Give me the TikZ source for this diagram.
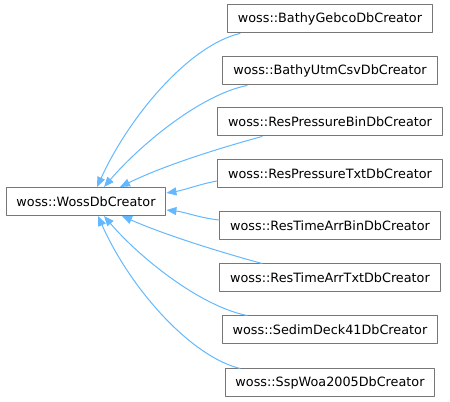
\documentclass[tikz,border=0pt]{standalone}
\usepackage{fontspec}
\setmainfont{DejaVu Sans}
\usetikzlibrary{arrows.meta}
\usetikzlibrary{calc}

\definecolor{edgeblue}{HTML}{63B8FF}
\definecolor{boxgray}{HTML}{777777}

\tikzset{
  classbox/.style={draw=boxgray, fill=white, line width=0.75pt, inner xsep=7.8pt,
    minimum height=21pt, font=\fontsize{9.6}{11}\selectfont},
  inherit/.style={draw=edgeblue, line width=0.75pt, -{Triangle[length=7.5pt,width=6pt]}}
}

\begin{document}
\begin{tikzpicture}[x=0.75pt, y=-0.75pt, line cap=round, line join=round]
\useasboundingbox (0,0) rectangle (450,402);

\node[classbox] (base) at (86,201.5) {woss::WossDbCreator};

\node[classbox] (gebco) at (330,19) {woss::BathyGebcoDbCreator};
\node[classbox] (utm)   at (330,71) {woss::BathyUtmCsvDbCreator};
\node[classbox] (pbin)  at (330,122) {woss::ResPressureBinDbCreator};
\node[classbox] (ptxt)  at (330,174) {woss::ResPressureTxtDbCreator};
\node[classbox] (tbin)  at (330,226) {woss::ResTimeArrBinDbCreator};
\node[classbox] (ttxt)  at (330,278) {woss::ResTimeArrTxtDbCreator};
\node[classbox] (sedim) at (330,330) {woss::SedimDeck41DbCreator};
\node[classbox] (woa)   at (330,383) {woss::SspWoa2005DbCreator};

% above the base class
\draw[inherit] ($(gebco.south)+(-90,0)$) .. controls (190,45) and (130,115) .. ($(base.north)+(11,0)$);
\draw[inherit] ($(utm.south)+(-83,0)$) .. controls (200,95) and (140,145) .. ($(base.north)+(18,0)$);
\draw[inherit] ($(pbin.south)+(-68,0)$) .. controls (220,148) and (165,165) .. ($(base.north)+(34,0)$);

% at the side
\draw[inherit] ($(ptxt.west)+(0,7)$) .. controls (200,184) and (185,190) .. ($(base.east)+(0,-8.5)$);
\draw[inherit] ($(tbin.west)+(0,-6)$) .. controls (200,218) and (185,212) .. ($(base.east)+(0,8.5)$);

% below the base class
\draw[inherit] ($(ttxt.north)+(-68,0)$) .. controls (220,252) and (165,235) .. ($(base.south)+(36,0)$);
\draw[inherit] ($(sedim.north)+(-83,0)$) .. controls (200,306) and (140,258) .. ($(base.south)+(18,0)$);
\draw[inherit] ($(woa.north)+(-90,0)$) .. controls (190,356) and (130,288) .. ($(base.south)+(12,0)$);

\end{tikzpicture}
\end{document}
